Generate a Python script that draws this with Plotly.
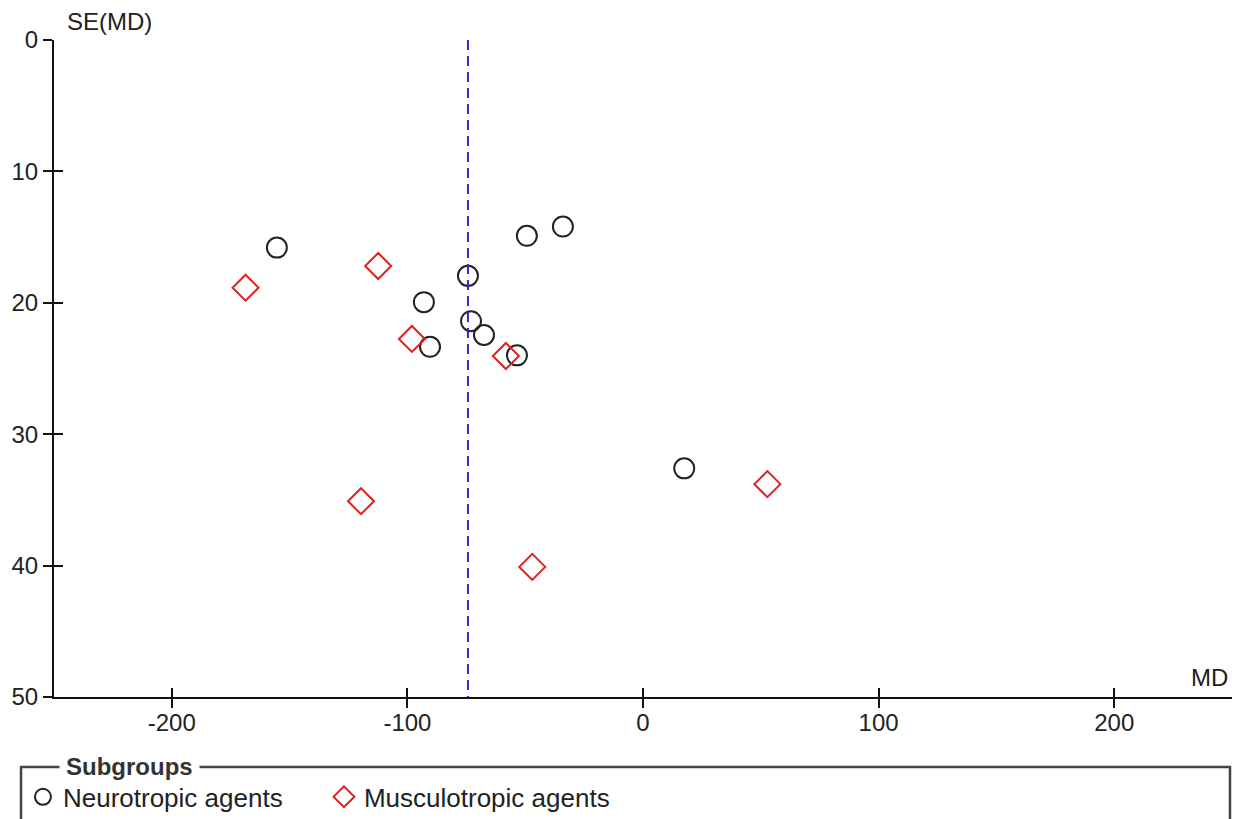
import plotly.graph_objects as go

# Study estimates: mean difference (MD) and its standard error, per subgroup
neuro_md = [-155.4, -49.3, -34.0, -74.3, -93.0, -73.0, -67.5, -90.4, -53.5, 17.5]
neuro_se = [15.8, 14.9, 14.2, 17.95, 19.95, 21.4, 22.45, 23.35, 24.0, 32.6]

musculo_md = [-168.7, -112.4, -98.1, -58.2, -119.7, -47.0, 52.8]
musculo_se = [18.85, 17.2, 22.75, 24.05, 35.1, 40.1, 33.8]

pooled_md = -74.3

x_ticks = [-200, -100, 0, 100, 200]
x_tick_text = ["-200", "-100", "0", "100", "200"]
y_ticks = [0, 10, 20, 30, 40, 50]
x_range = [-250, 250]
y_range = [50, 0]

FONT = "Liberation Sans"
TXT = "#222222"

fig = go.Figure()

fig.add_trace(go.Scatter(
    x=neuro_md, y=neuro_se, mode="markers", name="Neurotropic agents",
    marker=dict(symbol="circle-open", size=20, color="#222222",
                line=dict(width=2, color="#222222")),
    cliponaxis=False,
))
fig.add_trace(go.Scatter(
    x=musculo_md, y=musculo_se, mode="markers", name="Musculotropic agents",
    marker=dict(symbol="diamond-open", size=20, color="#dd2020",
                line=dict(width=2, color="#dd2020")),
    cliponaxis=False,
))
# pooled estimate reference line, drawn on the overlay axes
fig.add_trace(go.Scatter(
    x=[pooled_md, pooled_md], y=[y_range[1], y_range[0]], mode="lines",
    line=dict(color="#2a2ae0", width=2, dash="10px,6px"),
    xaxis="x2", yaxis="y2", showlegend=False, hoverinfo="skip",
))

axis_common = dict(showgrid=False, zeroline=False, ticklen=9, tickwidth=1.5,
                   tickcolor="#111111", automargin=False)

fig.update_layout(
    width=1234, height=819,
    margin=dict(l=54, r=2, t=40, b=122, autoexpand=False),
    plot_bgcolor="white", paper_bgcolor="white",
    font=dict(family=FONT, size=24, color=TXT),
    xaxis=dict(range=x_range, tickvals=x_ticks, ticktext=x_tick_text,
               ticks="outside", ticklabelstandoff=-6,
               showline=True, linecolor="#111111", linewidth=2,
               tickfont=dict(size=24, color=TXT), **axis_common),
    yaxis=dict(range=y_range, tickvals=y_ticks, ticks="outside",
               showline=True, linecolor="#111111", linewidth=2,
               tickfont=dict(size=24, color=TXT), **axis_common),
    xaxis2=dict(range=x_range, tickvals=x_ticks, ticks="inside",
                overlaying="x", showticklabels=False, showline=False,
                **axis_common),
    yaxis2=dict(range=y_range, tickvals=y_ticks, ticks="inside",
                overlaying="y", showticklabels=False, showline=False,
                **axis_common),
    showlegend=True,
    legend=dict(orientation="h", xref="container", yref="container",
                x=0.0186, xanchor="left", y=0.027, yanchor="middle",
                font=dict(size=26, color=TXT), entrywidth=256,
                bgcolor="rgba(0,0,0,0)", itemsizing="trace",
                traceorder="normal", tracegroupgap=0),
)

# axis titles
fig.add_annotation(text="SE(MD)", xref="paper", yref="paper", x=0.009, y=1.0,
                   xanchor="left", yanchor="bottom", showarrow=False,
                   font=dict(size=24, color=TXT), yshift=3)
fig.add_annotation(text="MD", xref="paper", yref="paper", x=0.998, y=0.0,
                   xanchor="right", yanchor="bottom", showarrow=False,
                   font=dict(size=24, color=TXT), yshift=4)

# group box around the legend
fig.add_shape(type="path", xref="paper", yref="paper",
              path="M -0.028,-0.205 L -0.028,-0.1065 L 0.9983,-0.1065 L 0.9983,-0.205",
              line=dict(color="#444444", width=2.5))
fig.add_annotation(text="<b>Subgroups</b>", xref="paper", yref="paper",
                   x=0.0045, y=-0.1065, xanchor="left", yanchor="middle",
                   showarrow=False, bgcolor="white", borderpad=6,
                   font=dict(size=24, color="#333333"))

fig.write_html("out.html")
